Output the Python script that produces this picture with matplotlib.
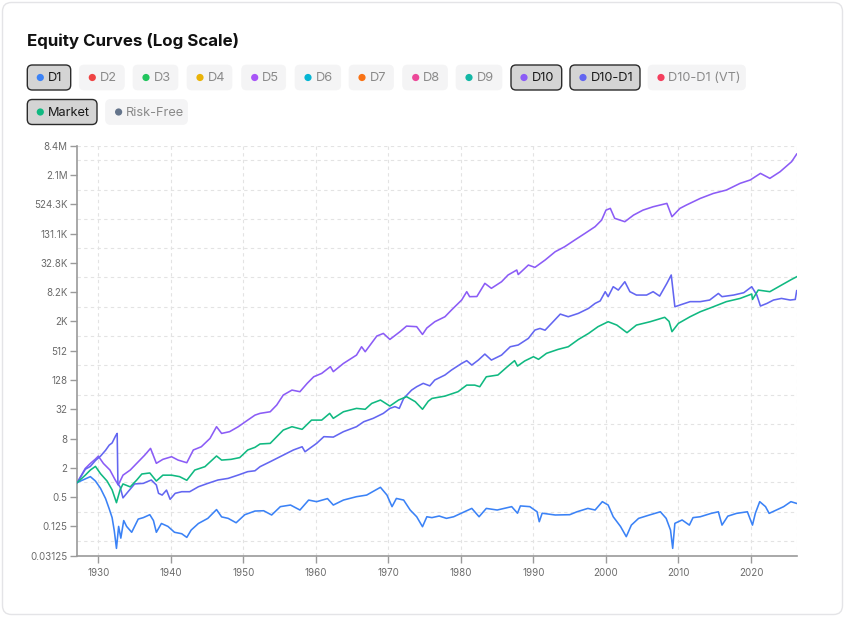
import numpy as np
import matplotlib
matplotlib.use('Agg')
import matplotlib.pyplot as plt
from matplotlib.patches import FancyBboxPatch, Circle
from matplotlib.ticker import FixedLocator, NullFormatter

plt.rcParams['font.family'] = ['Inter', 'DejaVu Sans']

# ---------------- data (equity, stored as log2 of growth of $1) ----------------
d1_years = [1927.1, 1928.0, 1928.9, 1929.6, 1930.3, 1931.0, 1931.5, 1931.9, 1932.2, 1932.5,
            1932.8, 1933.1, 1933.5, 1933.9, 1934.6, 1935.5, 1936.2, 1937.1, 1937.6, 1938.0,
            1938.7, 1939.6, 1940.5, 1941.5, 1942.2, 1942.8, 1943.8, 1945.1, 1946.3, 1947.0,
            1947.9, 1949.0, 1950.2, 1951.6, 1952.8, 1953.9, 1955.1, 1956.5, 1957.8, 1959.0,
            1960.1, 1961.6, 1962.4, 1963.8, 1965.6, 1967.0, 1968.9, 1969.8, 1970.5, 1971.1,
            1972.1, 1973.0, 1973.9, 1974.7, 1975.3, 1976.0, 1977.0, 1978.0, 1979.0, 1980.0,
            1981.5, 1982.5, 1983.5, 1985.0, 1987.0, 1987.8, 1988.2, 1989.5, 1990.5, 1990.8,
            1991.2, 1993.0, 1995.0, 1996.0, 1997.5, 1998.5, 1999.5, 2000.3, 2001.0, 2002.0,
            2002.8, 2003.5, 2004.5, 2006.0, 2007.5, 2008.3, 2008.9, 2009.2, 2009.5, 2010.5,
            2011.5, 2012.0, 2013.0, 2014.5, 2015.5, 2016.0, 2016.8, 2018.0, 2019.5, 2020.2,
            2020.6, 2021.2, 2022.0, 2022.5, 2023.5, 2024.5, 2025.5, 2026.3]
d1_log2 = [0.0, 0.2, 0.4, 0.1, -0.4, -1.1, -1.8, -2.4, -3.3, -4.5,
           -3.0, -3.8, -2.6, -3.0, -3.4, -2.5, -2.4, -2.2, -2.6, -3.4,
           -2.8, -3.0, -3.4, -3.5, -3.75, -3.25, -2.8, -2.45, -1.85, -2.35,
           -2.45, -2.75, -2.2, -1.95, -1.93, -2.22, -1.65, -1.54, -1.88, -1.2,
           -1.31, -1.1, -1.54, -1.2, -0.97, -0.86, -0.33, -0.86, -1.65, -1.09,
           -1.2, -1.88, -2.34, -3.02, -2.34, -2.4, -2.29, -2.45, -2.34, -2.11,
           -1.77, -2.34, -1.77, -1.88, -1.65, -2.1, -1.6, -1.65, -2.0, -2.68,
           -2.1, -2.22, -2.2, -2.0, -1.77, -1.88, -1.31, -1.54, -2.34, -3.0,
           -3.7, -2.91, -2.45, -2.22, -2.0, -2.45, -3.25, -4.5, -2.79, -2.56,
           -2.91, -2.4, -2.34, -2.11, -2.0, -2.91, -2.3, -2.11, -2.0, -2.91,
           -2.1, -1.31, -1.65, -2.11, -1.88, -1.65, -1.31, -1.43]

d10_years = [1927.1, 1928.2, 1928.9, 1929.6, 1930.0, 1930.7, 1931.6, 1932.3, 1932.75, 1933.4,
             1934.4, 1935.3, 1936.4, 1937.2, 1938.0, 1938.9, 1940.1, 1941.0, 1942.2, 1943.1,
             1944.2, 1945.4, 1946.3, 1947.0, 1948.1, 1949.3, 1950.6, 1951.6, 1952.3, 1953.7,
             1954.6, 1955.5, 1956.7, 1957.8, 1958.8, 1959.7, 1960.8, 1962.0, 1962.4, 1963.8,
             1965.6, 1966.3, 1966.8, 1968.4, 1969.3, 1970.2, 1971.6, 1972.5, 1973.9, 1974.7,
             1975.3, 1976.4, 1977.8, 1978.7, 1980.1, 1980.8, 1981.2, 1982.2, 1983.3, 1984.2,
             1985.6, 1986.5, 1987.7, 1987.9, 1989.3, 1990.2, 1991.6, 1993.0, 1994.3, 1995.7,
             1997.1, 1998.5, 1999.4, 2000.0, 2000.6, 2001.2, 2002.6, 2003.8, 2005.1, 2006.5,
             2008.4, 2009.1, 2010.2, 2011.1, 2013.0, 2014.8, 2016.6, 2018.5, 2019.9, 2021.3,
             2022.6, 2024.0, 2025.6, 2026.3]
d10_log2 = [0.0, 0.96, 1.3, 1.6, 1.8, 1.3, 0.85, 0.2, -0.17, 0.5,
            0.85, 1.31, 1.87, 2.33, 1.31, 1.58, 1.76, 1.53, 1.35, 2.22,
            2.44, 3.01, 3.81, 3.35, 3.47, 3.81, 4.26, 4.6, 4.72, 4.83,
            5.29, 5.97, 6.31, 6.2, 6.77, 7.22, 7.45, 7.91, 7.57, 8.13,
            8.7, 9.27, 8.93, 10.0, 10.18, 9.77, 10.3, 10.68, 10.64, 10.11,
            10.55, 10.98, 11.32, 11.78, 12.46, 13.03, 12.69, 12.7, 13.6, 13.26,
            13.71, 14.17, 14.51, 14.2, 14.85, 14.69, 15.19, 15.76, 16.1, 16.56,
            17.01, 17.47, 17.92, 18.6, 18.72, 18.04, 17.81, 18.26, 18.6, 18.83,
            19.06, 18.15, 18.72, 18.95, 19.4, 19.74, 19.97, 20.43, 20.66, 21.11,
            20.77, 21.22, 21.91, 22.43]

d10_d1_years = [1927.1, 1928.2, 1928.9, 1929.6, 1930.3, 1931.0, 1931.5, 1931.9, 1932.4, 1932.6,
                1932.7, 1933.0, 1933.4, 1934.1, 1935.0, 1936.2, 1937.3, 1938.0, 1938.3, 1938.8,
                1939.4, 1939.9, 1940.6, 1941.5, 1942.6, 1943.8, 1945.1, 1946.5, 1947.9, 1949.3,
                1950.6, 1951.6, 1952.3, 1953.7, 1955.5, 1956.9, 1958.1, 1958.5, 1960.1, 1961.1,
                1962.4, 1963.8, 1965.6, 1966.6, 1967.9, 1969.3, 1970.2, 1970.9, 1971.5, 1972.1,
                1973.2, 1973.9, 1974.8, 1975.7, 1976.4, 1977.8, 1978.7, 1980.1, 1980.8, 1981.5,
                1982.4, 1983.3, 1984.2, 1985.6, 1986.8, 1987.9, 1989.3, 1990.2, 1990.9, 1991.6,
                1992.5, 1993.7, 1994.8, 1996.2, 1997.6, 1998.5, 1999.2, 1999.9, 2000.3, 2001.0,
                2001.7, 2002.6, 2003.3, 2004.2, 2005.6, 2006.5, 2007.4, 2008.4, 2009.0, 2009.5,
                2010.2, 2011.6, 2013.0, 2014.3, 2015.5, 2016.0, 2017.6, 2019.0, 2020.1, 2020.8,
                2021.3, 2022.2, 2023.1, 2024.2, 2025.4, 2026.1, 2026.3]
d10_d1_log2 = [0.0, 0.9, 1.1, 1.5, 1.8, 2.2, 2.55, 2.7, 3.2, 3.35,
               -0.1, -0.3, -1.05, -0.63, -0.1, -0.06, 0.17, -0.17, -0.74, -0.86,
               -0.52, -1.15, -0.74, -0.63, -0.63, -0.29, -0.06, 0.17, 0.28, 0.51,
               0.74, 0.8, 1.08, 1.42, 1.87, 2.22, 2.44, 2.1, 2.67, 3.13,
               3.1, 3.47, 3.81, 4.15, 4.38, 4.72, 5.06, 5.18, 5.06, 5.74,
               6.31, 6.54, 6.77, 6.6, 7.0, 7.34, 7.68, 8.13, 8.32, 8.02,
               8.36, 8.77, 8.36, 8.7, 9.27, 9.39, 9.84, 10.41, 10.52, 10.4,
               10.87, 11.5, 11.32, 11.55, 11.89, 12.23, 12.4, 13.03, 12.69, 13.37,
               13.14, 13.71, 13.03, 12.8, 12.8, 13.03, 12.73, 13.6, 14.17, 12.0,
               12.12, 12.35, 12.35, 12.46, 12.91, 12.69, 12.8, 12.96, 13.37, 12.8,
               12.05, 12.23, 12.46, 12.57, 12.46, 12.5, 13.1]

market_years = [1927.1, 1928.2, 1928.9, 1929.6, 1930.3, 1931.2, 1931.9, 1932.5, 1933.0, 1933.4,
                1934.4, 1935.3, 1936.0, 1937.1, 1938.0, 1938.9, 1940.1, 1941.2, 1942.2, 1943.3,
                1944.7, 1946.3, 1947.0, 1948.3, 1949.5, 1950.6, 1951.6, 1952.3, 1953.7, 1955.5,
                1956.7, 1958.1, 1959.4, 1960.8, 1961.9, 1962.4, 1963.8, 1965.6, 1966.8, 1967.7,
                1968.9, 1970.2, 1971.4, 1972.5, 1973.7, 1974.7, 1975.5, 1976.0, 1977.8, 1979.6,
                1980.8, 1981.9, 1982.6, 1983.5, 1985.1, 1986.5, 1987.4, 1987.8, 1988.8, 1990.0,
                1990.7, 1991.8, 1993.4, 1994.8, 1996.2, 1997.6, 1998.9, 2000.3, 2001.5, 2002.9,
                2004.2, 2006.1, 2008.1, 2008.7, 2009.1, 2010.0, 2011.6, 2013.0, 2014.8, 2016.6,
                2018.5, 2020.1, 2020.2, 2021.0, 2022.6, 2024.2, 2025.6, 2026.3]
market_log2 = [0.0, 0.5, 0.85, 1.1, 0.6, 0.1, -0.5, -1.38, -0.5, -0.1,
               -0.3, 0.17, 0.58, 0.65, 0.1, 0.5, 0.5, 0.4, 0.15, 0.85,
               1.08, 1.81, 1.53, 1.58, 1.7, 2.22, 2.4, 2.63, 2.67, 3.58,
               3.81, 3.63, 4.26, 4.26, 4.72, 4.38, 4.83, 5.06, 5.0, 5.4,
               5.63, 5.22, 5.63, 5.86, 5.52, 5.0, 5.55, 5.74, 5.9, 6.2,
               6.65, 6.65, 6.54, 7.22, 7.34, 7.95, 8.32, 7.95, 8.3, 8.59,
               8.41, 8.82, 9.09, 9.27, 9.77, 10.18, 10.64, 10.98, 10.75, 10.23,
               10.75, 10.98, 11.28, 11.0, 10.3, 10.87, 11.32, 11.66, 12.0, 12.35,
               12.57, 12.87, 12.5, 13.14, 13.03, 13.48, 13.87, 14.05]

plotted = ['D1', 'D10', 'D10-D1', 'Market']

legend_labels = ['D1', 'D2', 'D3', 'D4', 'D5', 'D6', 'D7', 'D8', 'D9', 'D10',
                 'D10-D1', 'D10-D1 (VT)', 'Market', 'Risk-Free']
legend_colors = ['#3b82f6', '#ef4444', '#22c55e', '#eab308', '#a855f7', '#06b6d4',
                 '#f97316', '#ec4899', '#14b8a6', '#8b5cf6', '#6366f1', '#f43f5e',
                 '#10b981', '#64748b']

y_tick_values = [2.0 ** k for k in range(-5, 24, 2)]
y_tick_labels = ['0.03125', '0.125', '0.5', '2', '8', '32', '128', '512', '2K',
                 '8.2K', '32.8K', '131.1K', '524.3K', '2.1M', '8.4M']
x_tick_years = list(range(1930, 2030, 10))

# ---------------- layout ----------------
W, H = 845, 617
fig = plt.figure(figsize=(W / 100, H / 100), dpi=100)
fig.patch.set_facecolor('white')

ov = fig.add_axes([0, 0, 1, 1], zorder=0)
ov.set_xlim(0, W)
ov.set_ylim(H, 0)
ov.axis('off')

ov.add_patch(FancyBboxPatch((2.5, 2.5), W - 5, H - 5,
                            boxstyle='round,pad=0,rounding_size=9',
                            fc='white', ec='#e4e4e7', lw=1.0))

ov.text(27, 46, 'Equity Curves (Log Scale)', fontsize=12.2, fontweight='bold',
        color='#111111', va='baseline', ha='left')

# pill boxes (left, right, top, bottom) in pixels
pill_boxes = [(27.3, 70.7, 65, 90), (79.3, 124.3, 65, 90), (133, 178, 65, 90),
              (187, 232, 65, 90), (241.7, 285.7, 65, 90), (295, 340.7, 65, 90),
              (349, 393.5, 65, 90), (402.7, 447.4, 65, 90), (456, 502, 65, 90),
              (511, 561.7, 65, 90), (570, 640, 65, 90), (648, 745.5, 65, 90),
              (27.3, 97, 99.5, 124.5), (105.6, 187.5, 99.5, 124.5)]

for lab, col, (x0, x1, y0, y1) in zip(legend_labels, legend_colors, pill_boxes):
    active = lab in plotted
    if active:
        fc, ec, lw, tc = '#d4d4d4', '#2b2b2b', 1.0, '#1a1a1a'
    else:
        fc, ec, lw, tc = '#f4f4f5', '#f4f4f5', 0.5, '#8a8a8a'
    ov.add_patch(FancyBboxPatch((x0, y0), x1 - x0, y1 - y0,
                                boxstyle='round,pad=0,rounding_size=5',
                                fc=fc, ec=ec, lw=lw))
    yc = (y0 + y1) / 2
    ov.add_patch(Circle((x0 + 13, yc), 3.6, color=col, lw=0))
    ov.text(x0 + 20.5, yc + 0.5, lab, fontsize=9.2, color=tc, va='center', ha='left')

# ---------------- chart ----------------
ax_l, ax_r, ax_t, ax_b = 77.3, 796.7, 145.7, 555.7
ax = fig.add_axes([ax_l / W, 1 - ax_b / H, (ax_r - ax_l) / W, (ax_b - ax_t) / H], zorder=2)
ax.set_facecolor('none')
ax.set_yscale('log', base=2)

series = {
    'D1': (d1_years, d1_log2, '#3b82f6'),
    'D10': (d10_years, d10_log2, '#8b5cf6'),
    'D10-D1': (d10_d1_years, d10_d1_log2, '#6366f1'),
    'Market': (market_years, market_log2, '#10b981'),
}
for name in plotted:
    yrs, lg, col = series[name]
    ax.plot(yrs, np.power(2.0, np.array(lg)), color=col, lw=1.15, zorder=3,
            solid_joinstyle='round')

x_min, x_max = d1_years[0], d1_years[-1]
ax.set_xlim(x_min, x_max)
ax.set_ylim(y_tick_values[0], y_tick_values[-1])

ax.set_yticks(y_tick_values)
ax.set_yticklabels(y_tick_labels)
ax.yaxis.set_minor_locator(FixedLocator([2.0 ** k for k in range(-4, 23, 2)]))
ax.yaxis.set_minor_formatter(NullFormatter())
ax.set_xticks(x_tick_years)
ax.set_xticklabels([str(y) for y in x_tick_years])
ax.xaxis.set_minor_locator(FixedLocator([]))

grid_kw = dict(color='#e3e3e3', lw=0.8, ls=(0, (3, 3)))
ax.grid(which='minor', axis='y', **grid_kw)
ax.grid(which='major', axis='x', **grid_kw)
ax.axhline(y_tick_values[-1], zorder=1, **grid_kw)
ax.axvline(x_max, zorder=1, **grid_kw)
ax.set_axisbelow(True)

for s in ['top', 'right']:
    ax.spines[s].set_visible(False)
for s in ['left', 'bottom']:
    ax.spines[s].set_color('#9a9a9a')
    ax.spines[s].set_linewidth(1.2)

ax.tick_params(which='major', length=5, width=1, color='#9a9a9a',
               labelcolor='#6b6b6b', labelsize=7.0)
ax.tick_params(axis='y', pad=2)
ax.tick_params(axis='x', pad=4)
ax.tick_params(which='minor', length=0)

fig.savefig('out.png', dpi=100, facecolor='white')
